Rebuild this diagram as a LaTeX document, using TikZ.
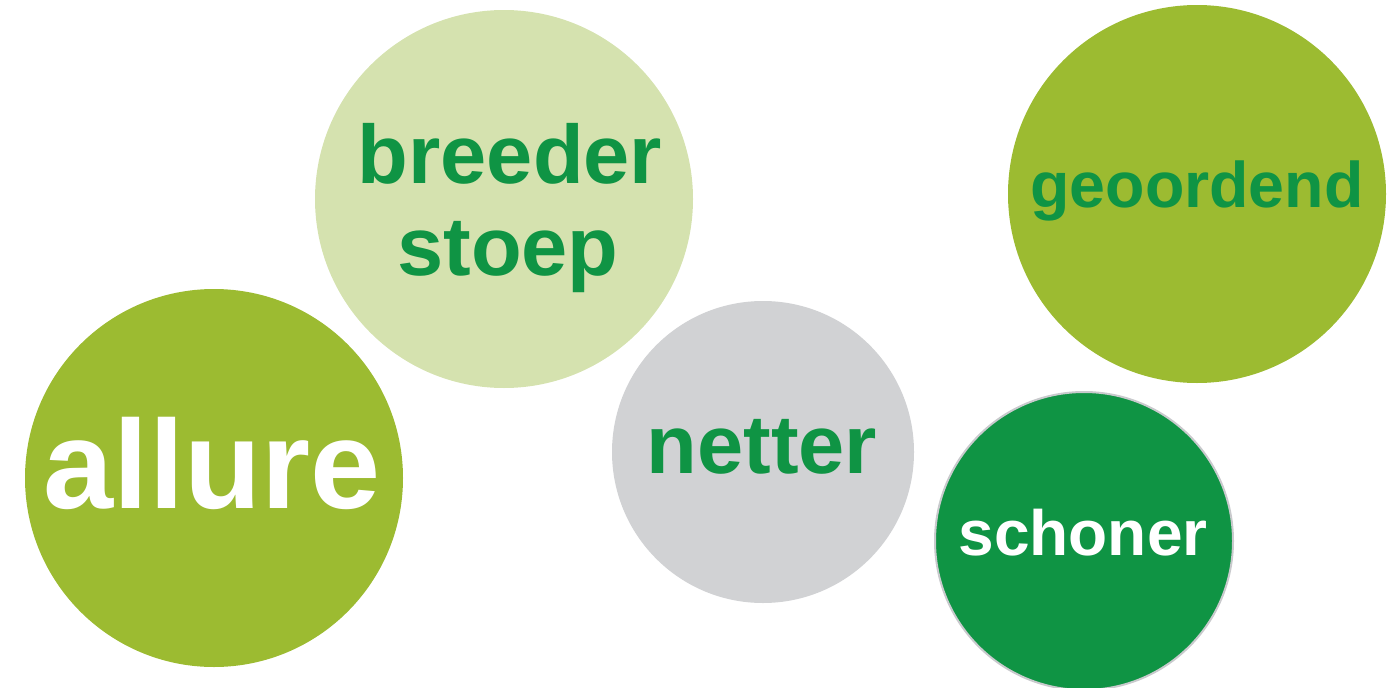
\documentclass[tikz,border=0pt]{standalone}
\usepackage{fontspec}
\setmainfont{Liberation Sans}
\definecolor{lgreen}{HTML}{9CBB31}
\definecolor{pgreen}{HTML}{D5E2AF}
\definecolor{lgray}{HTML}{D1D2D4}
\definecolor{dgreen}{HTML}{0F9444}
\definecolor{rimgray}{HTML}{C9CACD}
\tikzset{
  disc/.style={circle, inner sep=0pt, minimum size=#1},
  word/.style={anchor=base, inner sep=0pt, font=\bfseries},
}
\begin{document}
\begin{tikzpicture}[x=1pt,y=-1pt]
\useasboundingbox (0,0) rectangle (1398,688);
\node[disc=378pt, fill=lgreen] (allureC) at (214,478) {};
\node[disc=378pt, fill=pgreen] (breederC) at (504,199) {};
\node[disc=302pt, fill=lgray] (netterC) at (763,452) {};
\node[disc=378pt, fill=lgreen] (geoC) at (1197,194) {};
\node[disc=298pt, fill=dgreen, draw=rimgray, line width=2pt] (schonerC) at (1084,541) {};
\node[word, text=white, font=\bfseries\fontsize{126}{126}\selectfont] (allure) at (212,508) {allure};
\node[word, text=dgreen, font=\bfseries\fontsize{83}{83}\selectfont] (breeder) at (510,183) {breeder};
\node[word, text=dgreen, font=\bfseries\fontsize{83}{83}\selectfont] (stoep) at (508,275) {stoep};
\node[word, text=dgreen, font=\bfseries\fontsize{83}{83}\selectfont] (netter) at (762,473) {netter};
\node[word, text=dgreen, font=\bfseries\fontsize{64.5}{64.5}\selectfont] (geo) at (1197,207) {geoordend};
\node[word, text=white, font=\bfseries\fontsize{64}{64}\selectfont] (schoner) at (1083,555) {schoner};
\end{tikzpicture}
\end{document}
